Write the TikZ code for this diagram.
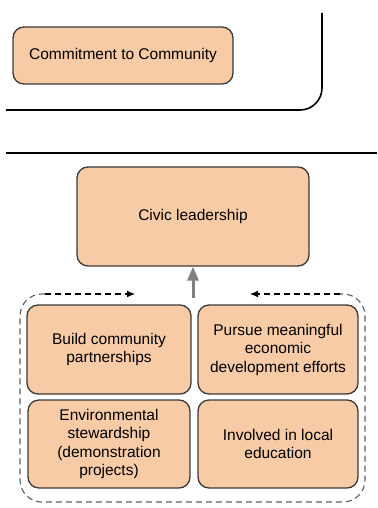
\documentclass[tikz,border=0pt]{standalone}
\usepackage{fontspec}
\setmainfont{Liberation Sans}
\usetikzlibrary{arrows.meta}
\definecolor{peach}{HTML}{F8CBA7}
\definecolor{edge}{HTML}{3A3A3A}
\definecolor{framegray}{HTML}{5E5E5E}
\definecolor{liftgray}{HTML}{808080}
\begin{document}
\begin{tikzpicture}[x=1pt,y=-1pt,
  card/.style={draw=edge,line width=1.3pt,fill=peach,rounded corners=11pt,
    align=center,inner sep=2pt,font=\fontsize{15.5}{18.5}\selectfont},
  frameline/.style={draw=black,line width=1.6pt},
  groupframe/.style={draw=framegray,line width=1.1pt,dash pattern=on 6pt off 4pt,rounded corners=22pt},
  flow/.style={draw=black,line width=1.1pt,dash pattern=on 6pt off 4pt,-{Latex[length=8pt,width=7pt]}},
  lift/.style={draw=liftgray,line width=3pt,-{Triangle[length=14pt,width=11pt]}}]
\useasboundingbox (0,0) rectangle (377,508);

% upper panel outline and separator
\draw[frameline,rounded corners=22pt] (6,110) -- (322,110) -- (322,13);
\draw[draw=black,line width=2.6pt] (6,153) -- (377,153);

% cards
\node[card,minimum width=220pt,minimum height=57pt] (commit) at (123,55.5) {Commitment to Community};
\node[card,minimum width=232pt,minimum height=99pt] (civic) at (193,216.5) {Civic leadership};
\node[card,minimum width=164pt,minimum height=89pt] (build) at (109,349.5) {Build community\\partnerships};
\node[card,minimum width=160pt,minimum height=89pt] (pursue) at (278,349.5) {Pursue meaningful\\economic\\development efforts};
\node[card,minimum width=162pt,minimum height=88pt] (env) at (109,444) {Environmental\\stewardship\\(demonstration\\projects)};
\node[card,minimum width=160pt,minimum height=88pt] (edu) at (278,444) {Involved in local\\education};

% dashed group boundary around the four cards
\coordinate (lt) at (45,294);
\coordinate (rt) at (340,294);
\coordinate (lh) at (135,294);
\coordinate (rh) at (250,294);
\path[groupframe] (lt) -- (20,294) -- (20,502) -- (365,502) -- (365,294) -- (rt);
\draw[flow] (lt) -- (lh);
\draw[flow] (rt) -- (rh);

% upward arrow into civic leadership
\coordinate (liftbase) at (193,298);
\draw[lift] (liftbase) -- (civic.south);
\end{tikzpicture}
\end{document}
